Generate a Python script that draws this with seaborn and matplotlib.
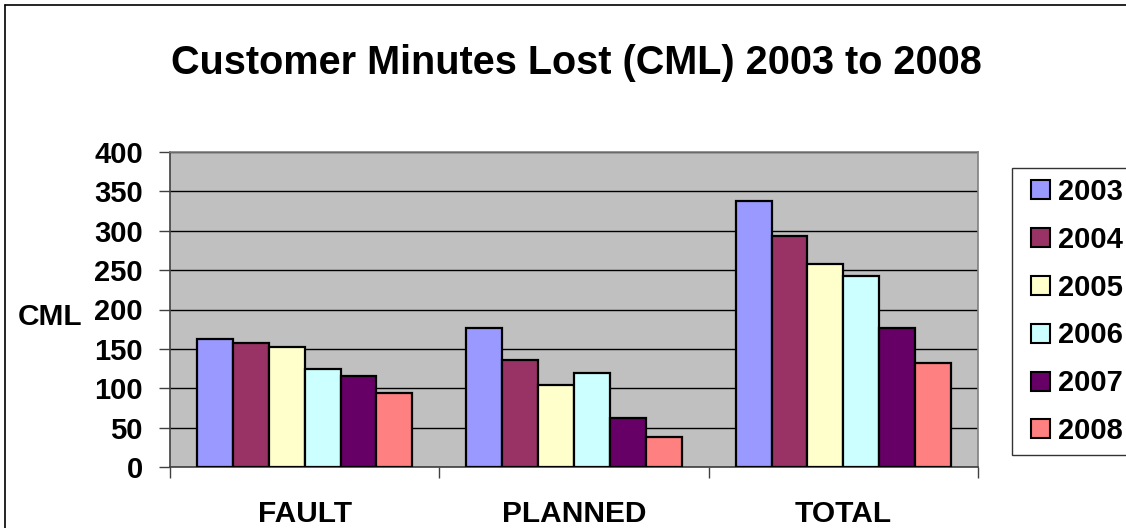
import matplotlib
matplotlib.use("Agg")
import matplotlib.pyplot as plt
import seaborn as sns
import pandas as pd
from matplotlib.lines import Line2D
from matplotlib.patches import Patch, Rectangle
from matplotlib.legend_handler import HandlerPatch

categories = ["FAULT", "PLANNED", "TOTAL"]
years = ["2003", "2004", "2005", "2006", "2007", "2008"]
fault = [162, 157, 153, 124, 115, 94]
planned = [176, 136, 104, 119, 62, 38]
total = [338, 293, 258, 243, 177, 132]
colors = ["#9999FF", "#993366", "#FFFFCC", "#CCFFFF", "#660066", "#FF8080"]

rows = []
for cat, vals in zip(categories, [fault, planned, total]):
    for y, v in zip(years, vals):
        rows.append({"category": cat, "year": y, "CML": v})
df = pd.DataFrame(rows)

sns.set_theme(style="white")
plt.rcParams["font.family"] = ["Liberation Sans", "DejaVu Sans"]
plt.rcParams["font.weight"] = "bold"
plt.rcParams["text.color"] = "black"
plt.rcParams["xtick.color"] = "black"
plt.rcParams["ytick.color"] = "black"
plt.rcParams["axes.labelcolor"] = "black"

W, H = 1126, 528
fig = plt.figure(figsize=(W / 100, H / 100), dpi=100)
ax = fig.add_axes([170 / W, 1 - 467 / H, (978 - 170) / W, (467 - 152) / H])
ax.set_facecolor("#C0C0C0")

sns.barplot(data=df, x="category", y="CML", hue="year", palette=colors,
            order=categories, hue_order=years, width=0.8, saturation=1,
            edgecolor="black", linewidth=1.6, ax=ax, legend=False, zorder=3)

ax.set_ylim(0, 400)
ax.set_xlim(-0.5, 2.5)
ax.set_yticks(range(0, 401, 50))
ax.yaxis.grid(True, color="black", linewidth=1.0, zorder=0)
ax.set_axisbelow(True)
ax.tick_params(axis="y", which="major", left=True, length=8, width=1, color="#404040",
               labelsize=21, pad=11.5, labelcolor="black")
for lab in ax.get_yticklabels():
    lab.set_fontweight("bold")

ax.set_xticks([0, 1, 2])
ax.set_xticklabels(categories, fontsize=21.5, fontweight="bold")
ax.set_xticks([-0.5, 0.5, 1.5, 2.5], minor=True)
ax.tick_params(axis="x", which="major", length=0, pad=24, labelcolor="black")
ax.tick_params(axis="x", which="minor", bottom=True, length=8, width=1, color="#404040")
ax.set_xlabel("")
ax.set_ylabel("")

for s in ["left", "bottom"]:
    ax.spines[s].set_color("#404040")
    ax.spines[s].set_linewidth(1.2)
for s in ["top", "right"]:
    ax.spines[s].set_color("#808080")
    ax.spines[s].set_linewidth(1.2)

fig.text(576 / W, 1 - 58.5 / H, "Customer Minutes Lost (CML) 2003 to 2008",
         ha="center", va="center_baseline", fontsize=28.5, fontweight="bold")
fig.text(50 / W, 1 - 317 / H, "CML", ha="center", va="center",
         fontsize=21.5, fontweight="bold")

# figure frame (left and top edges visible)
fig.add_artist(Line2D([5 / W, 5 / W], [0, 1 - 5 / H], color="black", linewidth=1.2,
                      transform=fig.transFigure))
fig.add_artist(Line2D([5 / W, 1], [1 - 5 / H, 1 - 5 / H], color="black", linewidth=1.2,
                      transform=fig.transFigure))


def square_patch(legend, orig_handle, xdescent, ydescent, width, height, fontsize):
    side = 19 * 72 / 100  # points
    cy = -ydescent + height / 2
    return Rectangle((-xdescent + width - side, cy - side / 2), side, side)


handles = [Patch(facecolor=c, edgecolor="black", linewidth=1.5) for c in colors]
leg = fig.legend(handles, years, loc="upper left",
                 bbox_to_anchor=(1012 / W, 1 - 168 / H), bbox_transform=fig.transFigure,
                 frameon=True, fancybox=False, prop={"weight": "bold", "size": 21},
                 handlelength=0.96, handleheight=0.7, handletextpad=0.28,
                 labelspacing=0.68, borderpad=0.34, borderaxespad=0,
                 handler_map={Patch: HandlerPatch(patch_func=square_patch)})
leg.get_frame().set_edgecolor("black")
leg.get_frame().set_linewidth(1.0)
for t in leg.get_texts():
    t.set_color("black")

fig.savefig("out.png", dpi=100)
